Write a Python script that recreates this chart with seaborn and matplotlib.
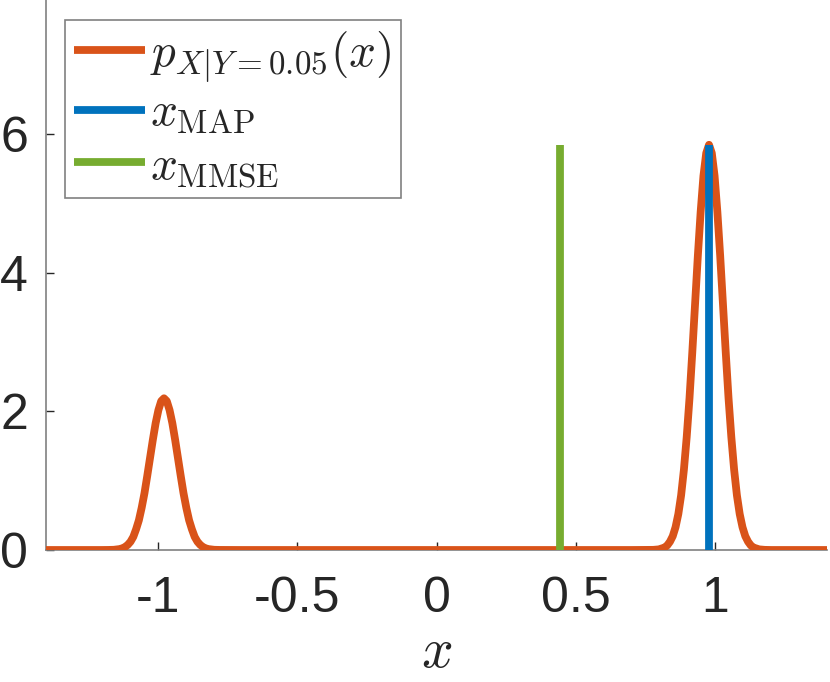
import numpy as np
import pandas as pd
import seaborn as sns
import matplotlib
matplotlib.use("Agg")
import matplotlib.pyplot as plt

# ---- data ----
curve_x = [-1.40, -1.20, -1.177, -1.157, -1.137, -1.127, -1.117, -1.107, -1.097, -1.087,
           -1.077, -1.067, -1.057, -1.047, -1.037, -1.027, -1.017, -1.007, -0.997, -0.987,
           -0.977, -0.967, -0.957, -0.947, -0.937, -0.927, -0.917, -0.907, -0.897, -0.887,
           -0.877, -0.867, -0.857, -0.847, -0.837, -0.827, -0.817, -0.797, -0.777, -0.70,
           0.70, 0.777, 0.797, 0.817, 0.827, 0.837, 0.847, 0.857, 0.867, 0.877,
           0.887, 0.897, 0.907, 0.917, 0.927, 0.937, 0.947, 0.957, 0.967, 0.977,
           0.987, 0.997, 1.007, 1.017, 1.027, 1.037, 1.047, 1.057, 1.067, 1.077,
           1.087, 1.097, 1.107, 1.117, 1.127, 1.137, 1.157, 1.177, 1.20, 1.40]
curve_y = [0.0, 0.0, 0.001, 0.003, 0.013, 0.024, 0.043, 0.074, 0.12, 0.19,
           0.30, 0.43, 0.61, 0.82, 1.07, 1.33, 1.59, 1.83, 2.02, 2.15,
           2.19, 2.15, 2.02, 1.83, 1.59, 1.33, 1.07, 0.82, 0.61, 0.43,
           0.30, 0.19, 0.12, 0.074, 0.043, 0.024, 0.013, 0.003, 0.001, 0.0,
           0.0, 0.002, 0.009, 0.035, 0.065, 0.12, 0.20, 0.33, 0.52, 0.79,
           1.16, 1.63, 2.19, 2.85, 3.55, 4.25, 4.88, 5.40, 5.73, 5.85,
           5.73, 5.40, 4.88, 4.25, 3.55, 2.85, 2.19, 1.63, 1.16, 0.79,
           0.52, 0.33, 0.20, 0.12, 0.065, 0.035, 0.009, 0.002, 0.0, 0.0]

x_map = 0.977
x_mmse = 0.443
stem_bottom = 0.0
stem_top = 5.85

series_labels = [r'$p_{X|Y=0.05}(x)$', r'$x_{\mathrm{MAP}}$', r'$x_{\mathrm{MMSE}}$']
x_ticks = [-1, -0.5, 0, 0.5, 1]
x_tick_labels = ['-1', '-0.5', '0', '0.5', '1']
y_ticks = [0, 2, 4, 6]
y_tick_labels = ['0', '2', '4', '6']
x_label = r'$x$'

# ---- styling ----
sns.set_theme(style="white")
plt.rcParams['font.family'] = ['Liberation Sans', 'DejaVu Sans']
plt.rcParams['mathtext.fontset'] = 'cm'
plt.rcParams['axes.unicode_minus'] = False

c_orange = '#D95319'
c_blue = '#0072BD'
c_green = '#77AC30'
lw = 5.6

fig = plt.figure(figsize=(8.30, 6.82), dpi=100)
ax = fig.add_axes([46 / 830, 132 / 682, 781 / 830, 550 / 682])

curve_df = pd.DataFrame({'x': curve_x, 'y': curve_y})
sns.lineplot(data=curve_df, x='x', y='y', ax=ax, color=c_orange, linewidth=lw,
             estimator=None, sort=False, label=series_labels[0],
             solid_capstyle='round', zorder=3)
map_df = pd.DataFrame({'x': [x_map, x_map], 'y': [stem_bottom, stem_top]})
sns.lineplot(data=map_df, x='x', y='y', ax=ax, color=c_blue, linewidth=lw,
             estimator=None, sort=False, label=series_labels[1],
             solid_capstyle='butt', zorder=4)
mmse_df = pd.DataFrame({'x': [x_mmse, x_mmse], 'y': [stem_bottom, stem_top]})
sns.lineplot(data=mmse_df, x='x', y='y', ax=ax, color=c_green, linewidth=lw,
             estimator=None, sort=False, label=series_labels[2],
             solid_capstyle='butt', zorder=4)

ax.set_xlim(-1.4, 1.4)
ax.set_ylim(0, 7.94)
ax.set_xticks(x_ticks)
ax.set_xticklabels(x_tick_labels)
ax.set_yticks(y_ticks)
ax.set_yticklabels(y_tick_labels)
ax.set_xlabel(x_label, fontsize=40, labelpad=3, color='#262626')
ax.set_ylabel('')

for s in ['top', 'right']:
    ax.spines[s].set_visible(False)
for s in ['left', 'bottom']:
    ax.spines[s].set_color('#808080')
    ax.spines[s].set_linewidth(1.2)
    ax.spines[s].set_zorder(1)

ax.tick_params(axis='both', direction='in', length=6, width=1, color='#262626',
               labelsize=36, labelcolor='#262626', left=True, bottom=True)
ax.tick_params(axis='x', pad=19)
ax.tick_params(axis='y', pad=13)

leg = ax.legend(loc='upper left', bbox_to_anchor=(19 / 781, 1 - 20 / 550),
                borderaxespad=0, fontsize=34, frameon=True, fancybox=False,
                framealpha=1, edgecolor='#808080', handlelength=1.5,
                handletextpad=0.1, borderpad=0.2, labelspacing=0.17)
leg.get_frame().set_linewidth(1.2)
for line in leg.get_lines():
    line.set_linewidth(lw)
    line.set_solid_capstyle('butt')

fig.savefig('out.png', dpi=100)
